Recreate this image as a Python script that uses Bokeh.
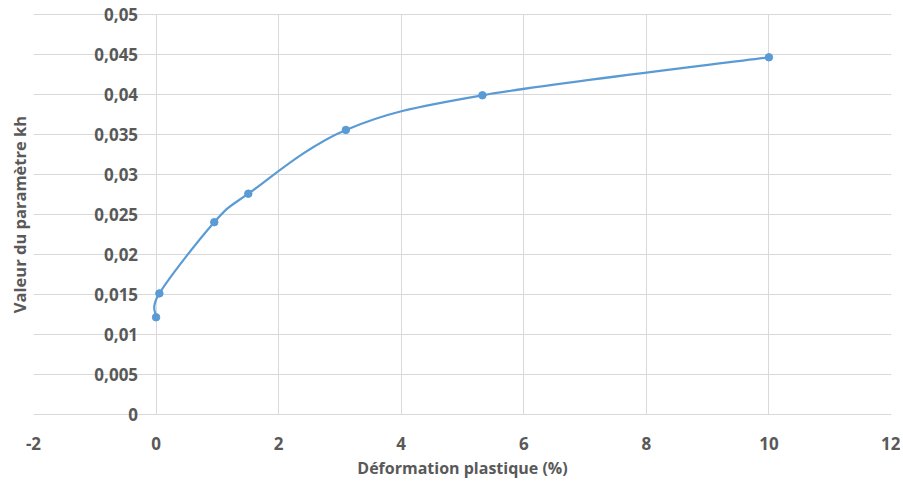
from bokeh.plotting import figure
from bokeh.models import ColumnDataSource, FixedTicker, Title, Label, Grid
from bokeh.embed import file_html
from bokeh.resources import INLINE

# ---- data ----
x_vals = [0.0, 0.054, 0.95, 1.505, 3.097, 5.325, 10.0]
y_vals = [0.01215, 0.01514, 0.02404, 0.0276, 0.03557, 0.0399, 0.04465]
x_ticks = [-2, 0, 2, 4, 6, 8, 10, 12]
x_tick_labels = ["-2", "0", "2", "4", "6", "8", "10", "12"]
y_ticks = [0, 0.005, 0.01, 0.015, 0.02, 0.025, 0.03, 0.035, 0.04, 0.045, 0.05]
y_tick_labels = ["0", "0,005", "0,01", "0,015", "0,02", "0,025", "0,03",
                 "0,035", "0,04", "0,045", "0,05"]
x_title = "Déformation plastique (%)"
y_title = "Valeur du paramètre kh"

FONT = "Open Sans"
TXT = "#595959"
GRID = "#D9D9D9"
BLUE = "#5B9BD5"

# small padding of the y range so the edge tick labels are not clipped
YPAD = 0.001
p = figure(width=900, height=482, x_range=(x_ticks[0], x_ticks[-1]),
           y_range=(y_ticks[0] - YPAD, y_ticks[-1] + YPAD),
           output_backend="svg", toolbar_location=None, y_axis_location=None,
           min_border_left=33, min_border_right=9, min_border_top=6,
           min_border_bottom=60)
p.outline_line_color = None
p.background_fill_color = "white"

# horizontal grid
p.ygrid.ticker = FixedTicker(ticks=y_ticks)
p.ygrid.grid_line_color = GRID
p.ygrid.grid_line_width = 1

# vertical grid limited to the 0 .. 0.05 band
if "cross_bounds" in Grid.properties():
    p.xgrid.ticker = FixedTicker(ticks=x_ticks)
    p.xgrid.grid_line_color = GRID
    p.xgrid.grid_line_width = 1
    p.xgrid.cross_bounds = (y_ticks[0], y_ticks[-1])
else:
    p.xgrid.grid_line_color = None
    p.segment(x0=x_ticks, y0=[y_ticks[0]] * len(x_ticks), x1=x_ticks,
              y1=[y_ticks[-1]] * len(x_ticks), line_color=GRID, line_width=1)

# x axis (labels only; the y=0 grid line acts as axis line)
xa = p.xaxis[0]
xa.ticker = FixedTicker(ticks=x_ticks)
xa.major_label_overrides = {t: l for t, l in zip(x_ticks, x_tick_labels)}
xa.axis_line_color = None
xa.major_tick_line_color = None
xa.minor_tick_line_color = None
xa.major_label_standoff = 8
xa.major_label_text_font = FONT
xa.major_label_text_font_style = "bold"
xa.major_label_text_font_size = "17px"
xa.major_label_text_color = TXT
xa.axis_label = x_title
xa.axis_label_standoff = 4
xa.axis_label_text_font = FONT
xa.axis_label_text_font_style = "bold"
xa.axis_label_text_font_size = "16px"
xa.axis_label_text_color = TXT

# y axis title
p.add_layout(Title(text=y_title, align="center", text_font=FONT,
                   text_font_style="bold", text_font_size="16.5px",
                   text_color=TXT, standoff=5), "left")

# y tick labels placed next to the vertical axis at x = 0
for yv, lab in zip(y_ticks, y_tick_labels):
    p.add_layout(Label(x=0, y=yv, text=lab, x_offset=-18,
                       text_align="right", text_baseline="middle",
                       text_font=FONT, text_font_style="bold",
                       text_font_size="17px", text_color=TXT))

# smoothed curve (Catmull-Rom style cubic Bezier segments, like Excel smoothing)
n = len(x_vals)
x0s, y0s, x1s, y1s, cx0, cy0, cx1, cy1 = [], [], [], [], [], [], [], []
for i in range(n - 1):
    im1 = max(i - 1, 0)
    ip2 = min(i + 2, n - 1)
    x0s.append(x_vals[i]); y0s.append(y_vals[i])
    x1s.append(x_vals[i + 1]); y1s.append(y_vals[i + 1])
    cx0.append(x_vals[i] + (x_vals[i + 1] - x_vals[im1]) / 6)
    cy0.append(y_vals[i] + (y_vals[i + 1] - y_vals[im1]) / 6)
    cx1.append(x_vals[i + 1] - (x_vals[ip2] - x_vals[i]) / 6)
    cy1.append(y_vals[i + 1] - (y_vals[ip2] - y_vals[i]) / 6)
bsrc = ColumnDataSource(dict(x0=x0s, y0=y0s, x1=x1s, y1=y1s,
                             cx0=cx0, cy0=cy0, cx1=cx1, cy1=cy1))
p.bezier(x0="x0", y0="y0", x1="x1", y1="y1", cx0="cx0", cy0="cy0",
         cx1="cx1", cy1="cy1", source=bsrc, line_color=BLUE, line_width=2.2)

p.scatter(x=x_vals, y=y_vals, size=7.5, marker="circle",
          fill_color=BLUE, line_color=BLUE)

open("out.html", "w").write(file_html(p, INLINE))
